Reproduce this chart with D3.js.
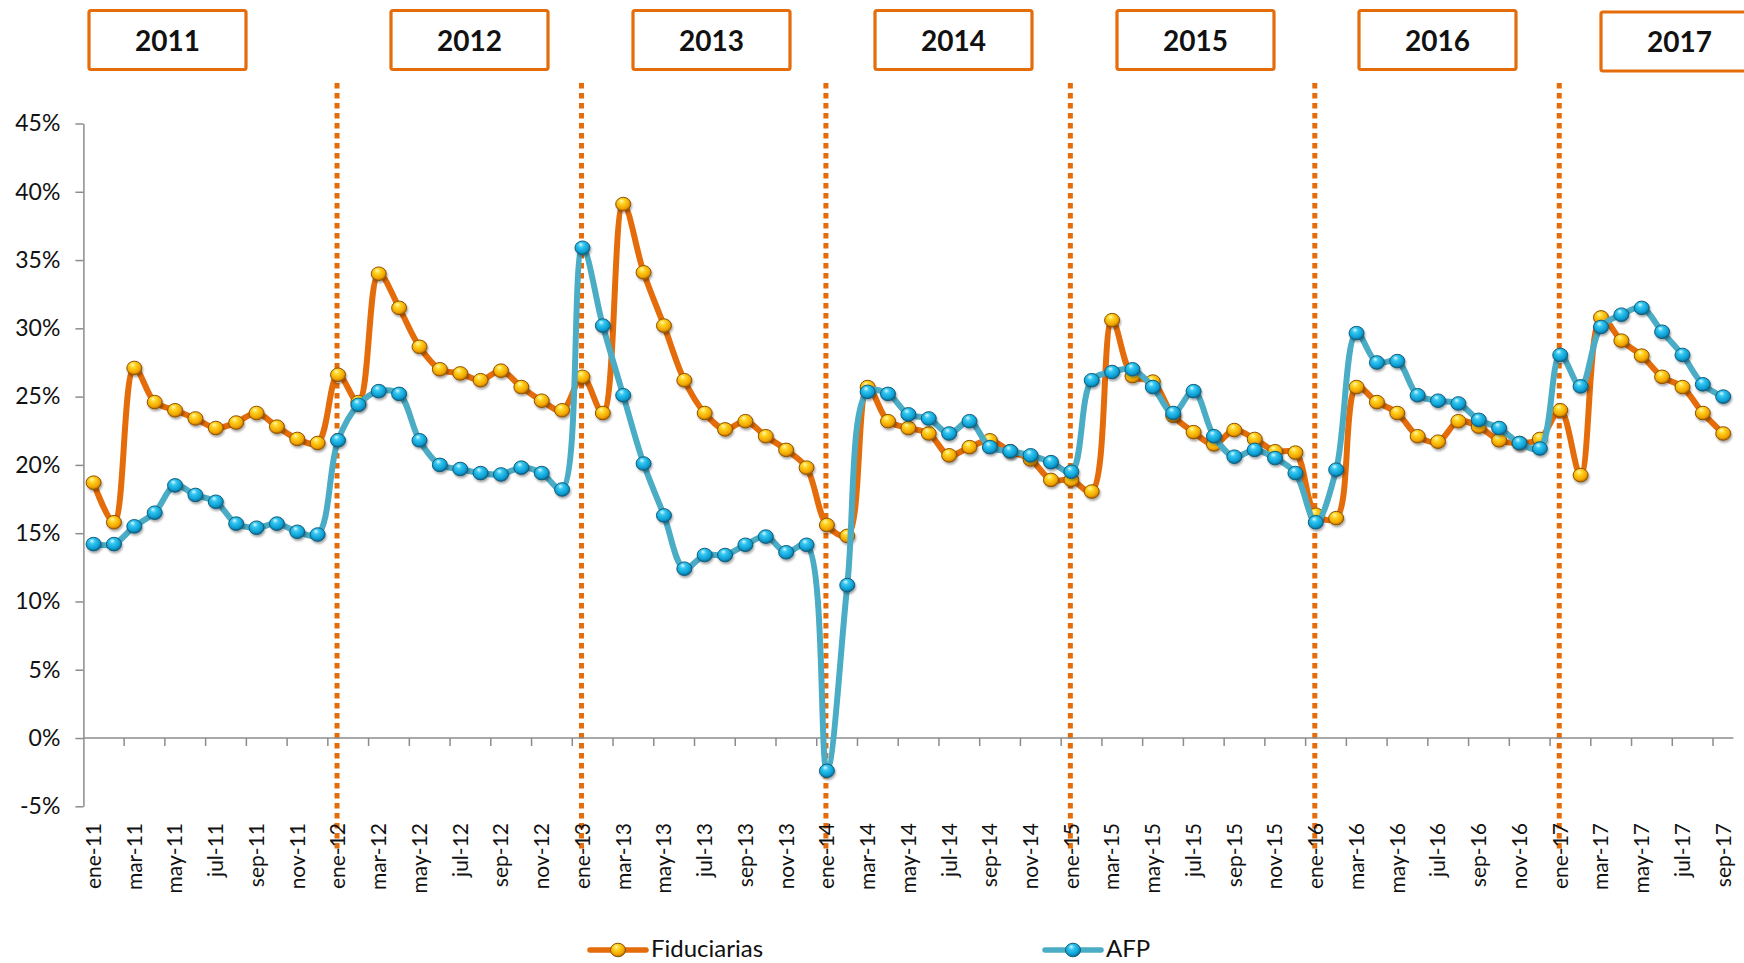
<!DOCTYPE html>
<html>
<head>
<meta charset="utf-8">
<script src="https://cdn.jsdelivr.net/npm/d3@7"></script>
<style>
  body { margin: 0; background: #fff; }
  svg { display: block; }
  text { font-family: Lato, "Open Sans", sans-serif; }
</style>
</head>
<body>
<svg id="chart" width="1744" height="963"></svg>
<script>
// months shown on the category axis (Spanish abbreviations)
const monthNames = ["ene","feb","mar","abr","may","jun","jul","ago","sep","oct","nov","dic"];
const years = ["11","12","13","14","15","16","17"];
const yearLabels = ["2011","2012","2013","2014","2015","2016","2017"];
const lastMonth = "sep-17";

let months = [];
years.forEach(y => monthNames.forEach(m => months.push(m + "-" + y)));
months = months.slice(0, months.indexOf(lastMonth) + 1);

const yTicks = [-5, 0, 5, 10, 15, 20, 25, 30, 35, 40, 45];

// values in %
const fiduciarias = [
  18.7, 15.8, 27.1, 24.6, 24.0, 23.4, 22.7, 23.1, 23.8, 22.8, 21.9, 21.6,
  26.6, 24.6, 34.0, 31.5, 28.65, 27.0, 26.7, 26.2, 26.9, 25.7, 24.7, 24.0,
  26.45, 23.8, 39.1, 34.1, 30.2, 26.2, 23.8, 22.6, 23.2, 22.1, 21.1, 19.8,
  15.6, 14.8, 25.7, 23.2, 22.7, 22.3, 20.7, 21.3, 21.8, 21.0, 20.4, 18.9,
  18.9, 18.05, 30.6, 26.5, 26.1, 23.6, 22.4, 21.5, 22.55, 21.9, 21.0, 20.9,
  16.35, 16.1, 25.7, 24.6, 23.8, 22.1, 21.7, 23.2, 22.8, 21.8, 21.6, 21.9,
  24.0, 19.25, 30.8, 29.1, 28.0, 26.45, 25.7, 23.8, 22.3
];
const afp = [
  14.2, 14.2, 15.5, 16.5, 18.5, 17.8, 17.3, 15.7, 15.4, 15.7, 15.1, 14.9,
  21.8, 24.4, 25.4, 25.2, 21.8, 20.0, 19.7, 19.4, 19.3, 19.8, 19.4, 18.2,
  35.9, 30.2, 25.1, 20.1, 16.3, 12.4, 13.4, 13.4, 14.15, 14.75, 13.6, 14.15,
  -2.4, 11.2, 25.35, 25.2, 23.7, 23.4, 22.3, 23.2, 21.3, 21.0, 20.7, 20.2,
  19.5, 26.2, 26.8, 27.0, 25.7, 23.8, 25.4, 22.1, 20.6, 21.1, 20.5, 19.4,
  15.8, 19.65, 29.65, 27.5, 27.6, 25.1, 24.7, 24.5, 23.3, 22.7, 21.6, 21.2,
  28.05, 25.75, 30.1, 31.0, 31.5, 29.75, 28.05, 25.9, 25.0
];

const svg = d3.select("#chart");
const left = 83.4, right = 1733.4;
const orange = "#E46C0A", blue = "#4BACC6", axisGrey = "#8C8C8C";

let x = d3.scaleBand().domain(months).range([left, right]).padding(0);
let bw = x.bandwidth();
let cx = m => x(m) + bw / 2;
let y = d3.scaleLinear().domain([-5, 45]).range([806.3, 123.5]);

// gradients for the bevelled markers
let defs = svg.append("defs");
function markerGrad(id, stops) {
  let g = defs.append("radialGradient").attr("id", id)
    .attr("cx", "45%").attr("cy", "40%").attr("r", "62%")
    .attr("fx", "38%").attr("fy", "25%");
  stops.forEach(s => g.append("stop").attr("offset", s[0]).attr("stop-color", s[1]));
}
markerGrad("gFid", [["0%", "#FFF8C0"], ["30%", "#FFD624"], ["75%", "#F2A500"], ["100%", "#A85F00"]]);
markerGrad("gAfp", [["0%", "#DDF8FF"], ["30%", "#35C8F2"], ["75%", "#0B9ED3"], ["100%", "#0A5A80"]]);
let sh = defs.append("filter").attr("id", "shadow").attr("x", "-50%").attr("y", "-50%")
  .attr("width", "200%").attr("height", "200%");
sh.append("feDropShadow").attr("dx", 1).attr("dy", 2).attr("stdDeviation", 1.3)
  .attr("flood-color", "#000").attr("flood-opacity", 0.35);

// year boxes on top
let boxCenters = yearLabels.map((d, i) => i === 0 ? 167.5 : 469.5 + 242 * (i - 1));
let boxes = svg.append("g").selectAll("g").data(yearLabels).join("g")
  .attr("transform", (d, i) => `translate(${boxCenters[i]},0)`);
boxes.append("rect")
  .attr("x", -78.5).attr("y", (d, i) => i === 6 ? 12 : 10.5)
  .attr("width", 157).attr("height", 59).attr("rx", 2)
  .attr("fill", "#fff").attr("stroke", orange).attr("stroke-width", 3.2);
boxes.append("text")
  .attr("y", (d, i) => i === 6 ? 52 : 50.5)
  .attr("text-anchor", "middle")
  .attr("font-size", 28).attr("font-weight", "bold").attr("fill", "#111")
  .text(d => d);

// dotted separators at each january
let janMonths = months.filter((m, i) => i > 0 && m.startsWith("ene"));
svg.append("g").selectAll("line").data(janMonths).join("line")
  .attr("x1", d => cx(d) - 1).attr("x2", d => cx(d) - 1)
  .attr("y1", 83).attr("y2", 851)
  .attr("stroke", orange).attr("stroke-width", 5)
  .attr("stroke-dasharray", "5.5 4.5");

// y axis
let yAxis = svg.append("g").attr("transform", `translate(${left},0)`)
  .call(d3.axisLeft(y).tickValues(yTicks).tickSize(8).tickSizeOuter(0).tickPadding(15)
    .tickFormat(d => d + "%"));
yAxis.select(".domain").attr("stroke", axisGrey).attr("stroke-width", 1.5);
yAxis.selectAll(".tick line").attr("stroke", axisGrey).attr("stroke-width", 1.5);
yAxis.selectAll(".tick text").attr("font-size", 23).attr("fill", "#111")
  .attr("font-family", "Lato, sans-serif");

// x axis line at 0% with a tick every two months
svg.append("line").attr("x1", left).attr("x2", right)
  .attr("y1", y(0)).attr("y2", y(0))
  .attr("stroke", axisGrey).attr("stroke-width", 1.5);
let tickMonths = months.filter((m, i) => i > 0 && i % 2 === 0);
svg.append("g").selectAll("line").data(tickMonths).join("line")
  .attr("x1", d => x(d)).attr("x2", d => x(d))
  .attr("y1", y(0)).attr("y2", y(0) + 8)
  .attr("stroke", axisGrey).attr("stroke-width", 1.5);

// category labels, every second month, below the plot
let labelMonths = months.filter((m, i) => i % 2 === 0);
svg.append("g").selectAll("text").data(labelMonths).join("text")
  .attr("transform", d => `translate(${cx(d)},823) rotate(-90)`)
  .attr("text-anchor", "end").attr("dy", "0.35em")
  .attr("font-size", 21).attr("fill", "#111")
  .text(d => d);

// series
let lineGen = d3.line()
  .x((d, i) => cx(months[i]))
  .y(d => y(d))
  .curve(d3.curveCatmullRom.alpha(0.5));

function drawSeries(vals, color, grad, stroke) {
  let g = svg.append("g");
  g.append("path").datum(vals)
    .attr("d", lineGen)
    .attr("fill", "none").attr("stroke", color)
    .attr("stroke-width", 6).attr("stroke-linejoin", "round");
  g.selectAll("ellipse").data(vals).join("ellipse")
    .attr("cx", (d, i) => cx(months[i])).attr("cy", d => y(d))
    .attr("rx", 7.5).attr("ry", 6.8)
    .attr("fill", `url(#${grad})`).attr("stroke", stroke).attr("stroke-width", 1)
    .attr("filter", "url(#shadow)");
}
drawSeries(fiduciarias, orange, "gFid", "#8E5200");
drawSeries(afp, blue, "gAfp", "#145E7A");

// legend
let legendItems = [
  { name: "Fiduciarias", color: orange, grad: "gFid", stroke: "#8E5200", x0: 590 },
  { name: "AFP", color: blue, grad: "gAfp", stroke: "#145E7A", x0: 1045 }
];
let lg = svg.append("g").selectAll("g").data(legendItems).join("g")
  .attr("transform", d => `translate(${d.x0},950)`);
lg.append("line").attr("x1", 0).attr("x2", 56).attr("y1", 0).attr("y2", 0)
  .attr("stroke", d => d.color).attr("stroke-width", 5.5).attr("stroke-linecap", "round");
lg.append("ellipse").attr("cx", 28).attr("cy", 0).attr("rx", 7.5).attr("ry", 6.8)
  .attr("fill", d => `url(#${d.grad})`).attr("stroke", d => d.stroke).attr("stroke-width", 1);
lg.append("text").attr("x", 61).attr("y", 7)
  .attr("font-size", 24).attr("fill", "#111")
  .text(d => d.name);
</script>
</body>
</html>
